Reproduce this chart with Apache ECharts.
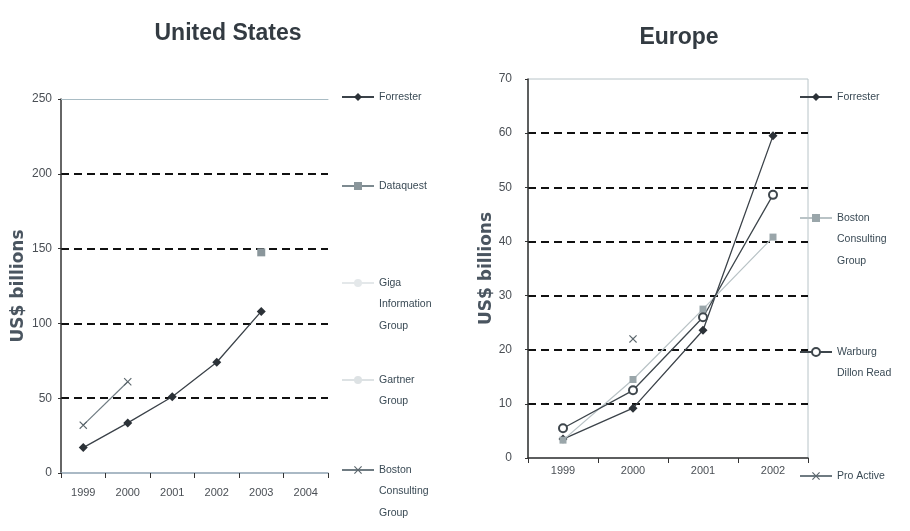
<!DOCTYPE html>
<html>
<head>
<meta charset="utf-8">
<script src="https://cdn.jsdelivr.net/npm/echarts@6/dist/echarts.min.js"></script>
<style>
html,body{margin:0;padding:0;background:#fff;}
#c{width:910px;height:531px;}
</style>
</head>
<body>
<div id="c"></div>
<script>
// ---- Data ----
const usYears = ['1999', '2000', '2001', '2002', '2003', '2004'];
const usForrester = [17, 33.5, 51, 74, 108, null];
const usDataquest = [null, null, null, null, 147.5, null];
const usGiga = [null, null, null, null, null, null];
const usGartner = [null, null, null, null, null, null];
const usBoston = [32, 61, null, null, null, null];
const usTicks = [0, 50, 100, 150, 200, 250];

const euYears = ['1999', '2000', '2001', '2002'];
const euForrester = [3.5, 9.2, 23.6, 59.5];
const euBoston = [3.3, 14.5, 27.5, 40.8];
const euWarburg = [5.5, 12.5, 26, 48.6];
const euProActive = [null, 22, null, null];
const euTicks = [0, 10, 20, 30, 40, 50, 60, 70];

const usNames = ['Forrester', 'Dataquest', 'Giga\nInformation\nGroup', 'Gartner\nGroup', 'Boston\nConsulting\nGroup'];
const euNames = ['Forrester ', 'Boston\nConsulting\nGroup ', 'Warburg\nDillon Read', 'Pro Active'];

// ---- Styling helpers ----
const SANS = '"Liberation Sans", Arial, sans-serif';
const xPath = 'path://M0,1L1,0L5,4L9,0L10,1L6,5L10,9L9,10L5,6L1,10L0,9L4,5Z';
const LH = 21.5;

// center = desired vertical centre of the icon / first text line
function legendItem(name, left, center) {
  const n = name.split('\n').length;
  return {
    data: [name], left: left, top: center - (2 * n - 1) * LH / 2, orient: 'vertical',
    itemWidth: 32, itemHeight: 10, itemGap: 0, padding: 0,
    selectedMode: false,
    formatter: function (nm) { return '\n'.repeat(n - 1) + nm; },
    textStyle: { fontFamily: SANS, fontSize: 10.5, color: '#3a4a55', lineHeight: LH }
  };
}

function yAxisOf(gridIndex, max, interval, labelMargin, nameGap) {
  return {
    type: 'value', gridIndex: gridIndex, min: 0, max: max, interval: interval,
    name: 'US$ billions', nameLocation: 'middle', nameGap: nameGap, nameRotate: 90,
    nameTextStyle: { fontFamily: '"DejaVu Sans", sans-serif', fontWeight: 'bold', fontSize: 17, color: '#4a5560' },
    axisLine: { show: true, lineStyle: { color: '#333', width: 1.5 } },
    axisTick: { show: true, length: 3, lineStyle: { color: '#333' } },
    axisLabel: { fontFamily: SANS, fontSize: 12, color: '#4a4f55', margin: labelMargin },
    splitLine: { show: true, showMinLine: false, showMaxLine: false, lineStyle: { type: [8, 5], color: '#111', width: 2 } }
  };
}

function xAxisOf(gridIndex, data, lineColor, labelMargin) {
  return {
    type: 'category', gridIndex: gridIndex, data: data, boundaryGap: true,
    axisLine: { show: true, lineStyle: { color: lineColor, width: 1.5 } },
    axisTick: { show: true, length: 5, alignWithLabel: false, lineStyle: { color: '#333' } },
    axisLabel: { fontFamily: SANS, fontSize: 11, color: '#4a4f55', margin: labelMargin }
  };
}

const chart = echarts.init(document.getElementById('c'), null, { renderer: 'canvas' });

const option = {
  backgroundColor: '#fff',
  animation: false,
  title: [
    { text: 'United States', left: 223, top: 17, textAlign: 'center',
      textStyle: { fontFamily: SANS, fontWeight: 'bold', fontSize: 23, color: '#333b42' } },
    { text: 'Europe', left: 674, top: 21, textAlign: 'center',
      textStyle: { fontFamily: SANS, fontWeight: 'bold', fontSize: 23, color: '#333b42' } }
  ],
  grid: [
    { left: 61, top: 99, width: 267, height: 374, show: false },
    { left: 528, top: 79, width: 280, height: 379, show: true, borderColor: '#b8c4c8', borderWidth: 1 }
  ],
  xAxis: [
    xAxisOf(0, usYears, '#8ea3b3', 14),
    xAxisOf(1, euYears, '#333', 7),
    { type: 'category', gridIndex: 0, data: usYears, position: 'top',
      axisLine: { show: true, lineStyle: { color: '#a9bcc4', width: 1 } },
      axisTick: { show: false }, axisLabel: { show: false }, splitLine: { show: false } }
  ],
  yAxis: [yAxisOf(0, 250, 50, 9, 34), yAxisOf(1, 70, 10, 16, 31)],
  legend: [
    legendItem(usNames[0], 341, 97),
    legendItem(usNames[1], 341, 186),
    legendItem(usNames[2], 341, 283),
    legendItem(usNames[3], 341, 380),
    legendItem(usNames[4], 341, 470),
    legendItem(euNames[0], 799, 97),
    legendItem(euNames[1], 799, 218),
    legendItem(euNames[2], 799, 352),
    legendItem(euNames[3], 799, 476)
  ],
  series: [
    { name: usNames[0], type: 'line', xAxisIndex: 0, yAxisIndex: 0, data: usForrester,
      symbol: 'diamond', symbolSize: 9, lineStyle: { color: '#3b4249', width: 1.3 },
      itemStyle: { color: '#2c3238' } },
    { name: usNames[1], type: 'line', xAxisIndex: 0, yAxisIndex: 0, data: usDataquest,
      symbol: 'rect', symbolSize: 8, lineStyle: { color: '#7d8a90', width: 1.3 },
      itemStyle: { color: '#8a969b' } },
    { name: usNames[2], type: 'line', xAxisIndex: 0, yAxisIndex: 0, data: usGiga,
      symbol: 'none', lineStyle: { color: '#e4e8ea', width: 1 }, itemStyle: { color: '#e4e8ea' } },
    { name: usNames[3], type: 'line', xAxisIndex: 0, yAxisIndex: 0, data: usGartner,
      symbol: 'circle', symbolSize: 3, lineStyle: { color: '#dde2e4', width: 1 }, itemStyle: { color: '#dde2e4' } },
    { name: usNames[4], type: 'line', xAxisIndex: 0, yAxisIndex: 0, data: usBoston,
      symbol: xPath, symbolSize: 8, lineStyle: { color: '#6f7b82', width: 1.2 },
      itemStyle: { color: '#5c676d' } },

    { name: euNames[0], type: 'line', xAxisIndex: 1, yAxisIndex: 1, data: euForrester,
      symbol: 'diamond', symbolSize: 9, lineStyle: { color: '#3b4249', width: 1.3 },
      itemStyle: { color: '#2c3238' } },
    { name: euNames[1], type: 'line', xAxisIndex: 1, yAxisIndex: 1, data: euBoston,
      symbol: 'rect', symbolSize: 7, lineStyle: { color: '#b9c3c6', width: 1.3 },
      itemStyle: { color: '#9aa6aa' } },
    { name: euNames[2], type: 'line', xAxisIndex: 1, yAxisIndex: 1, data: euWarburg,
      symbol: 'emptyCircle', symbolSize: 8, lineStyle: { color: '#3e464c', width: 1.3 },
      itemStyle: { color: '#3e464c', borderWidth: 1.3 } },
    { name: euNames[3], type: 'line', xAxisIndex: 1, yAxisIndex: 1, data: euProActive,
      symbol: xPath, symbolSize: 8, lineStyle: { color: '#6f7b82', width: 1 },
      itemStyle: { color: '#5c676d' } }
  ]
};

chart.setOption(option);
</script>
</body>
</html>
